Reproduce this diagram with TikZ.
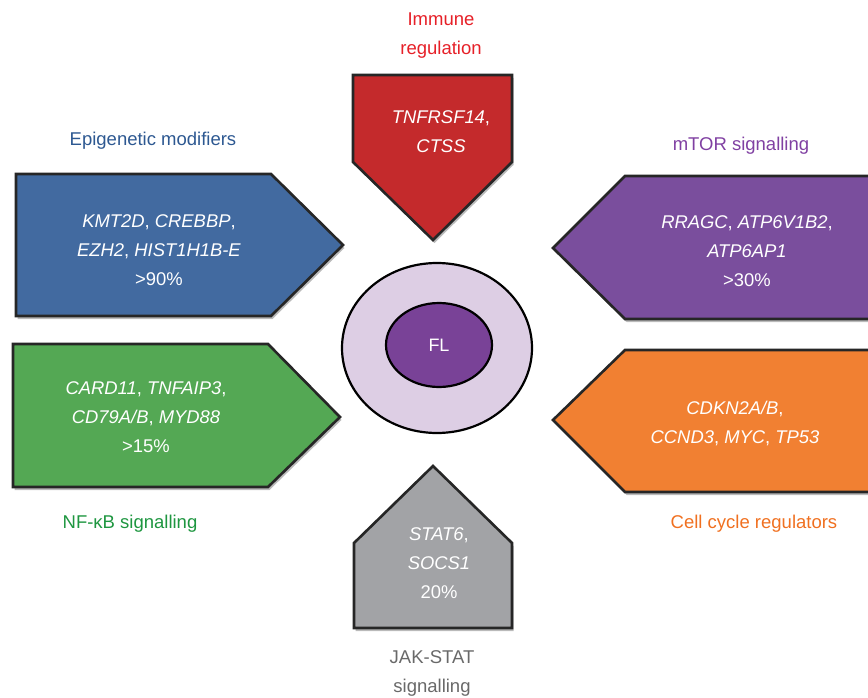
\documentclass[tikz,border=0pt]{standalone}
\usepackage{fontspec}
\setmainfont{Liberation Sans}
\usetikzlibrary{shadows,shapes.geometric}
\definecolor{cblue}{RGB}{66,106,160}
\definecolor{cpurple}{RGB}{122,78,157}
\definecolor{cgreen}{RGB}{84,168,84}
\definecolor{corange}{RGB}{241,128,50}
\definecolor{cred}{RGB}{196,42,44}
\definecolor{cgray}{RGB}{162,163,166}
\definecolor{clav}{RGB}{221,206,228}
\definecolor{cinner}{RGB}{121,66,151}
\definecolor{tblue}{RGB}{45,88,145}
\definecolor{tred}{RGB}{230,32,40}
\definecolor{tpurple}{RGB}{128,64,162}
\definecolor{tgreen}{RGB}{30,150,64}
\definecolor{torange}{RGB}{240,112,32}
\definecolor{tgray}{RGB}{105,105,105}
\tikzset{
  arrowshape/.style={draw=black!85, line width=2.6pt, line join=miter,
    drop shadow={shadow xshift=1.5pt, shadow yshift=-3pt, opacity=0.45, fill=black!60}},
  intext/.style={text=white, font=\fontsize{18.4}{29}\selectfont, align=center},
  cattext/.style={font=\fontsize{18.5}{29}\selectfont, align=center},
}
\begin{document}
\begin{tikzpicture}[x=1pt,y=-1pt]
\useasboundingbox (0,0) rectangle (868,698);
% blue
\fill[cblue, arrowshape] (16,174) -- (271,174) -- (343,245) -- (271,316) -- (16,316) -- cycle;
% green
\fill[cgreen, arrowshape] (13,344) -- (268,344) -- (340,417) -- (268,487) -- (13,487) -- cycle;
% purple
\fill[cpurple, arrowshape] (880,176) -- (625,176) -- (553,248) -- (625,319) -- (880,319) -- cycle;
% orange
\fill[corange, arrowshape] (880,350) -- (625,350) -- (553,420) -- (625,492) -- (880,492) -- cycle;
% red
\fill[cred, arrowshape] (353,75) -- (512,75) -- (512,162) -- (433,240) -- (353,162) -- cycle;
% gray
\fill[cgray, arrowshape] (354,628) -- (512,628) -- (512,543) -- (433,466) -- (354,543) -- cycle;
% cell
\node[ellipse, draw, line width=2.2pt, fill=clav, minimum width=190pt, minimum height=170pt, inner sep=0pt] (cell) at (437,348) {};
\node[ellipse, draw, line width=2.2pt, fill=cinner, minimum width=106pt, minimum height=84pt, inner sep=0pt, text=white, font=\fontsize{18}{20}\selectfont] (fl) at (439,345) {FL};
% inner texts
\node[intext] (tblue) at (159,250) {\textit{KMT2D}, \textit{CREBBP},\\ \textit{EZH2}, \textit{HIST1H1B-E}\\ >90\%};
\node[intext] (tgreen) at (146,417) {\textit{CARD11}, \textit{TNFAIP3},\\ \textit{CD79A/B}, \textit{MYD88}\\ >15\%};
\node[intext] (tpurple) at (747,251) {\textit{RRAGC}, \textit{ATP6V1B2},\\ \textit{ATP6AP1}\\ >30\%};
\node[intext] (torange) at (735,424) {\textit{CDKN2A/B},\\ \textit{CCND3}, \textit{MYC}, \textit{TP53}};
\node[intext] (tred) at (441,132) {\textit{TNFRSF14},\\ \textit{CTSS}};
\node[intext] (tgray) at (439,563) {\textit{STAT6},\\ \textit{SOCS1}\\ 20\%};
% category labels
\node[cattext, text=tred] (lred) at (441,36) {Immune\\ regulation};
\node[cattext, text=tblue] (lblue) at (153,141) {Epigenetic modifiers};
\node[cattext, text=tpurple] (lpurple) at (741,146) {mTOR signalling};
\node[cattext, text=tgreen] (lgreen) at (130,524) {NF-κB signalling};
\node[cattext, text=torange] (lorange) at (754,524) {Cell cycle regulators};
\node[cattext, text=tgray] (lgray) at (432,673) {JAK-STAT\\ signalling};
\end{tikzpicture}
\end{document}
